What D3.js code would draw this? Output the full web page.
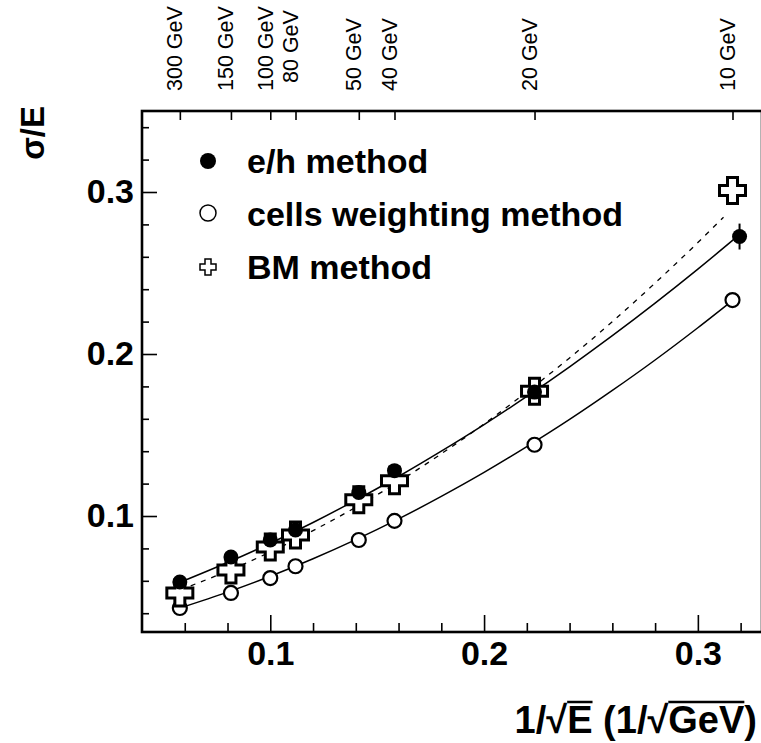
<!DOCTYPE html>
<html>
<head>
<meta charset="utf-8">
<script src="https://cdn.jsdelivr.net/npm/d3@7"></script>
<style>
  body { margin: 0; background: #fff; }
  text { font-family: "Liberation Sans", Arial, Helvetica, sans-serif; fill: #000; }
</style>
</head>
<body>
<div id="chart"></div>
<script>
// beam energies (GeV) and 1/sqrt(E)
const energies = [300, 150, 100, 80, 50, 40, 20, 10];
const invSqrtE = [0.0577, 0.0816, 0.1, 0.1118, 0.1414, 0.1581, 0.2236, 0.3162];
const ehX = [0.0577, 0.0816, 0.1, 0.1118, 0.1414, 0.1581, 0.2236, 0.3195];

// sigma/E per method
const ehRes = [0.0593, 0.0747, 0.0852, 0.0914, 0.1145, 0.1280, 0.1765, 0.2725];
const ehErr = [0, 0, 0, 0, 0, 0, 0, 0.008];
const cellsRes = [0.0432, 0.0525, 0.0617, 0.0690, 0.0852, 0.0970, 0.1440, 0.2333];
const bmRes = [0.0525, 0.0667, 0.0809, 0.0883, 0.1100, 0.1218, 0.1770, 0.3010];

// fit curves
const fitXEh = [0.058, 0.08, 0.10, 0.12, 0.14, 0.16, 0.18, 0.20, 0.22, 0.24, 0.26, 0.28, 0.30, 0.3195];
const fitEh = [0.0592, 0.0713, 0.0832, 0.0960, 0.1098, 0.1244, 0.1400, 0.1564, 0.1738, 0.1921, 0.2113, 0.2314, 0.2524, 0.2737];
const fitXCells = [0.058, 0.08, 0.10, 0.12, 0.14, 0.16, 0.18, 0.20, 0.22, 0.24, 0.26, 0.28, 0.30, 0.316];
const fitCells = [0.0433, 0.0530, 0.0628, 0.0736, 0.0854, 0.0982, 0.1121, 0.1269, 0.1428, 0.1596, 0.1775, 0.1963, 0.2162, 0.2328];
const fitXBm = [0.058, 0.08, 0.10, 0.12, 0.14, 0.16, 0.18, 0.20, 0.22, 0.24, 0.26, 0.28, 0.30, 0.312];
const fitBm = [0.0545, 0.0660, 0.0778, 0.0910, 0.1054, 0.1212, 0.1384, 0.1568, 0.1766, 0.1976, 0.2200, 0.2438, 0.2688, 0.2844];

const xMajor = [0.1, 0.2, 0.3];
const xMinor = [0.06, 0.08, 0.12, 0.14, 0.16, 0.18, 0.22, 0.24, 0.26, 0.28, 0.32];
const yMajor = [0.1, 0.2, 0.3];
const yMinor = [0.04, 0.06, 0.08, 0.12, 0.14, 0.16, 0.18, 0.22, 0.24, 0.26, 0.28, 0.32, 0.34];
const legendNames = ["e/h method", "cells weighting method", "BM method"];

const width = 761, height = 743;
const mLeft = 142, mRight = 762, mTop = 111, mBottom = 632;

const svg = d3.select('#chart').append('svg').attr('width', width).attr('height', height);

const x = d3.scaleLinear().domain([0.04, 0.33]).range([mLeft, mRight]);
const y = d3.scaleLinear().domain([0.0284, 0.35]).range([mBottom, mTop]);

// frame
svg.append('rect')
  .attr('x', mLeft).attr('y', mTop)
  .attr('width', mRight - mLeft).attr('height', mBottom - mTop)
  .attr('fill', 'none').attr('stroke', '#000').attr('stroke-width', 2.6);

// axes: ticks point inward
const fmt = d3.format('.1f');
svg.append('g').attr('transform', 'translate(0,' + mBottom + ')')
  .call(d3.axisBottom(x).tickValues(xMinor).tickSize(-9).tickFormat(''));
svg.append('g').attr('class', 'xmaj').attr('transform', 'translate(0,' + mBottom + ')')
  .call(d3.axisBottom(x).tickValues(xMajor).tickSize(-17).tickPadding(9).tickFormat(fmt));
svg.append('g').attr('transform', 'translate(' + mLeft + ',0)')
  .call(d3.axisLeft(y).tickValues(yMinor).tickSize(-7).tickFormat(''));
svg.append('g').attr('class', 'ymaj').attr('transform', 'translate(' + mLeft + ',0)')
  .call(d3.axisLeft(y).tickValues(yMajor).tickSize(-15).tickPadding(8).tickFormat(fmt));

// energy ticks on top
svg.append('g').attr('transform', 'translate(0,' + mTop + ')')
  .call(d3.axisTop(x).tickValues(invSqrtE).tickSize(-9).tickFormat(''));

svg.selectAll('.domain').remove();
svg.selectAll('.tick line').attr('stroke', '#000').attr('stroke-width', 1.6);
svg.selectAll('.xmaj text, .ymaj text')
  .attr('font-size', 34).attr('font-weight', 'bold')
  .style('font-family', '"Liberation Sans", Arial, sans-serif');
svg.selectAll('.xmaj text').attr('dy', '0.71em');

// energy labels, rotated
svg.selectAll('text.elab')
  .data(energies)
  .enter().append('text')
    .attr('class', 'elab')
    .attr('transform', function (d, i) {
      let yy = d === 80 ? 83 : 91;
      return 'translate(' + (x(invSqrtE[i]) + 2.5) + ',' + yy + ') rotate(-90)';
    })
    .attr('font-size', 21.5)
    .text(function (d) { return d + ' GeV'; });

// fit curves
const line = d3.line().x(d => x(d[0])).y(d => y(d[1])).curve(d3.curveMonotoneX);
svg.append('path')
  .attr('d', line(d3.zip(fitXCells, fitCells)))
  .attr('fill', 'none').attr('stroke', '#000').attr('stroke-width', 1.5);
svg.append('path')
  .attr('d', line(d3.zip(fitXEh, fitEh)))
  .attr('fill', 'none').attr('stroke', '#000').attr('stroke-width', 1.5);
svg.append('path')
  .attr('d', line(d3.zip(fitXBm, fitBm)))
  .attr('fill', 'none').attr('stroke', '#000').attr('stroke-width', 1.3)
  .attr('stroke-dasharray', '5,6');

// greek cross marker
function crossPath(s, w) {
  return 'M' + (-w) + ',' + (-s) + 'H' + w + 'V' + (-w) + 'H' + s + 'V' + w + 'H' + w +
         'V' + s + 'H' + (-w) + 'V' + w + 'H' + (-s) + 'V' + (-w) + 'H' + (-w) + 'Z';
}

// open circles
svg.selectAll('circle.cells')
  .data(cellsRes)
  .enter().append('circle')
    .attr('class', 'cells')
    .attr('cx', (d, i) => x(invSqrtE[i]))
    .attr('cy', d => y(d))
    .attr('r', 7)
    .attr('fill', '#fff').attr('stroke', '#000').attr('stroke-width', 2.2);

// crosses
svg.selectAll('path.bm')
  .data(bmRes)
  .enter().append('path')
    .attr('class', 'bm')
    .attr('transform', (d, i) => 'translate(' + x(invSqrtE[i]) + ',' + y(d) + ')')
    .attr('d', crossPath(13, 5))
    .attr('fill', '#fff').attr('stroke', '#000').attr('stroke-width', 3);

// filled circles with error bars
svg.selectAll('line.eherr')
  .data(ehRes)
  .enter().append('line')
    .attr('class', 'eherr')
    .attr('x1', (d, i) => x(ehX[i])).attr('x2', (d, i) => x(ehX[i]))
    .attr('y1', (d, i) => y(d - ehErr[i])).attr('y2', (d, i) => y(d + ehErr[i]))
    .attr('stroke', '#000').attr('stroke-width', 2);
svg.selectAll('circle.eh')
  .data(ehRes)
  .enter().append('circle')
    .attr('class', 'eh')
    .attr('cx', (d, i) => x(ehX[i]))
    .attr('cy', d => y(d))
    .attr('r', 7.5)
    .attr('fill', '#000');

// legend
const lg = svg.append('g').attr('transform', 'translate(208,161)');
lg.append('circle').attr('cx', 0).attr('cy', 0).attr('r', 8).attr('fill', '#000');
lg.append('circle').attr('cx', 0).attr('cy', 52).attr('r', 8)
  .attr('fill', 'none').attr('stroke', '#000').attr('stroke-width', 1.5);
lg.append('path').attr('transform', 'translate(0,106)').attr('d', crossPath(8, 3))
  .attr('fill', 'none').attr('stroke', '#000').attr('stroke-width', 1.5);
lg.selectAll('text')
  .data(legendNames)
  .enter().append('text')
    .attr('x', 39)
    .attr('y', (d, i) => i * 53 + 12)
    .attr('font-size', 34).attr('font-weight', 'bold')
    .text(d => d);

// y axis title
svg.append('text')
  .attr('transform', 'translate(44,106) rotate(-90)')
  .attr('text-anchor', 'end')
  .attr('font-size', 33).attr('font-weight', 'bold')
  .text('σ/E');

// x axis title with radicals
const pieces = [
  { t: '1/' }, { t: '√', rad: true }, { t: 'E', over: true },
  { t: ' (1/' }, { t: '√', rad: true }, { t: 'GeV', over: true }, { t: ')' }
];
const tg = svg.append('g');
let cx = 0;
const baseY = 733;
pieces.forEach(function (p) {
  const t = tg.append('text').attr('x', cx).attr('y', baseY)
    .attr('font-size', 38).attr('font-weight', 'bold')
    .attr('xml:space', 'preserve').text(p.t);
  const w = t.node().getComputedTextLength();
  if (p.over) {
    tg.append('line').attr('x1', cx).attr('x2', cx + w)
      .attr('y1', baseY - 31).attr('y2', baseY - 31)
      .attr('stroke', '#000').attr('stroke-width', 2.5);
  }
  cx += w;
});
tg.attr('transform', 'translate(' + (757 - cx) + ',0)');
</script>
</body>
</html>
